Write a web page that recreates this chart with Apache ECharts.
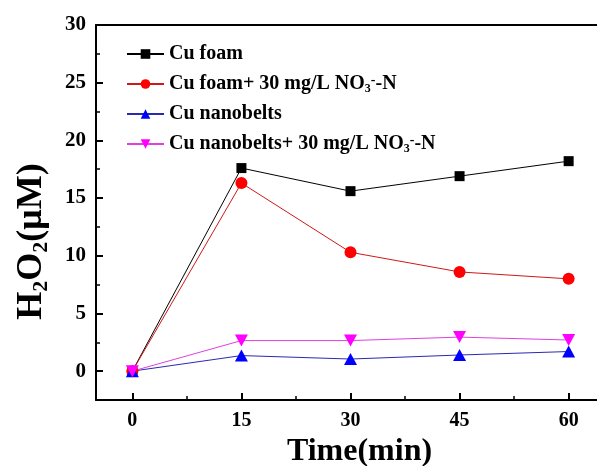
<!DOCTYPE html>
<html>
<head>
<meta charset="utf-8">
<script src="https://cdn.jsdelivr.net/npm/echarts@6/dist/echarts.min.js"></script>
<style>
html,body{margin:0;padding:0;background:#fff;overflow:hidden;}
#c{width:597px;height:466px;}
</style>
</head>
<body>
<div id="c"></div>
<script>
const time = [0, 15, 30, 45, 60];
const cuFoam = [0, 17.6, 15.6, 16.9, 18.2];
const cuFoamNO3 = [0, 16.3, 10.3, 8.6, 8.0];
const cuNanobelts = [0, 1.35, 1.05, 1.4, 1.7];
const cuNanobeltsNO3 = [0, 2.65, 2.65, 2.95, 2.7];
const seriesNames = ['Cu foam', 'Cu foam+ 30 mg/L NO₃⁻-N', 'Cu nanobelts', 'Cu nanobelts+ 30 mg/L NO₃⁻-N'];
const xMajor = [0, 15, 30, 45, 60];
const xMinor = [7.5, 22.5, 37.5, 52.5];
const yMajor = [0, 5, 10, 15, 20, 25, 30];
const yMinor = [2.5, 7.5, 12.5, 17.5, 22.5, 27.5];

const FONT = "'Liberation Serif', 'Times New Roman', serif";
const chart = echarts.init(document.getElementById('c'), null, {renderer: 'canvas'});

function pairs(vals) { return time.map((t, i) => [t, vals[i]]); }

const invTri = 'path://M0,0 L10,0 L5,9 Z';
const gridBox = {left: 96, right: -8, top: 25, bottom: 66, show: false, containLabel: false, outerBoundsMode: 'none'};

const option = {
  animation: false,
  backgroundColor: '#fff',
  grid: [Object.assign({}, gridBox), Object.assign({}, gridBox)],
  legend: {
    orient: 'vertical', left: 121, top: 38,
    itemWidth: 37, itemHeight: 12, itemGap: 8,
    data: seriesNames,
    formatter: n => n.replace('₃⁻', '{sub|3}{sup|-}'),
    textStyle: {
      fontFamily: FONT, fontWeight: 'bold', fontSize: 20, color: '#000', lineHeight: 22,
      rich: {
        sub: {fontFamily: FONT, fontWeight: 'bold', fontSize: 12, verticalAlign: 'bottom', lineHeight: 10},
        sup: {fontFamily: FONT, fontWeight: 'bold', fontSize: 14, verticalAlign: 'top', lineHeight: 10}
      }
    }
  },
  xAxis: [{
    type: 'value', min: -5, max: 65, gridIndex: 0, position: 'bottom',
    name: 'Time(min)', nameLocation: 'middle', nameGap: 28,
    nameTextStyle: {fontFamily: FONT, fontWeight: 'bold', fontSize: 32, color: '#000', padding: [0, 0, 0, 18]},
    axisLine: {onZero: false, lineStyle: {color: '#000', width: 2}},
    axisTick: {inside: true, length: 7, customValues: xMajor, lineStyle: {color: '#000', width: 2}},
    axisLabel: {customValues: xMajor, fontFamily: FONT, fontWeight: 'bold', fontSize: 20, color: '#000', margin: 11},
    splitLine: {show: false}
  }, {
    type: 'value', min: -5, max: 65, gridIndex: 0, position: 'top',
    axisLine: {show: true, onZero: false, lineStyle: {color: '#000', width: 2}},
    axisTick: {show: false}, axisLabel: {show: false}, splitLine: {show: false}
  }, {
    type: 'value', min: -5, max: 65, gridIndex: 1, position: 'bottom',
    axisLine: {show: false, onZero: false},
    axisTick: {inside: true, length: 4, customValues: xMinor, lineStyle: {color: '#000', width: 1.5}},
    axisLabel: {show: false}, splitLine: {show: false}
  }],
  yAxis: [{
    type: 'value', min: -2.5, max: 30, gridIndex: 0, position: 'left',
    name: '{b|H}{s|2}{b|O}{s|2}{b|(μM)}', nameLocation: 'middle', nameGap: 44, nameRotate: 90,
    nameTextStyle: {
      fontFamily: FONT, fontWeight: 'bold', fontSize: 36, color: '#000', padding: [0, 58, 0, 0],
      rich: {
        b: {fontFamily: FONT, fontWeight: 'bold', fontSize: 36, color: '#000', lineHeight: 40},
        s: {fontFamily: FONT, fontWeight: 'bold', fontSize: 22, color: '#000', verticalAlign: 'bottom', lineHeight: 20}
      }
    },
    axisLine: {onZero: false, lineStyle: {color: '#000', width: 2}},
    axisTick: {inside: true, length: 7, customValues: yMajor, lineStyle: {color: '#000', width: 2}},
    axisLabel: {customValues: yMajor, fontFamily: FONT, fontWeight: 'bold', fontSize: 21, color: '#000', margin: 10},
    splitLine: {show: false}
  }, {
    type: 'value', min: -2.5, max: 30, gridIndex: 1, position: 'left',
    axisLine: {show: false, onZero: false},
    axisTick: {inside: true, length: 4, customValues: yMinor, lineStyle: {color: '#000', width: 1.5}},
    axisLabel: {show: false}, splitLine: {show: false}
  }],
  series: [
    {name: seriesNames[0], type: 'line', xAxisIndex: 0, yAxisIndex: 0, data: pairs(cuFoam), symbol: 'rect', symbolSize: 10,
     itemStyle: {color: '#000'}, lineStyle: {color: '#000', width: 1}},
    {name: seriesNames[1], type: 'line', xAxisIndex: 0, yAxisIndex: 0, data: pairs(cuFoamNO3), symbol: 'circle', symbolSize: 12,
     itemStyle: {color: '#ff0000'}, lineStyle: {color: '#d01818', width: 1}},
    {name: seriesNames[2], type: 'line', xAxisIndex: 0, yAxisIndex: 0, data: pairs(cuNanobelts), symbol: 'triangle', symbolSize: [13, 12],
     itemStyle: {color: '#0000ff'}, lineStyle: {color: '#2a2ab0', width: 1}},
    {name: seriesNames[3], type: 'line', xAxisIndex: 0, yAxisIndex: 0, data: pairs(cuNanobeltsNO3), symbol: invTri, symbolSize: [13, 12],
     itemStyle: {color: '#ff00ff'}, lineStyle: {color: '#e040e0', width: 1}}
  ]
};
chart.setOption(option);
</script>
</body>
</html>
